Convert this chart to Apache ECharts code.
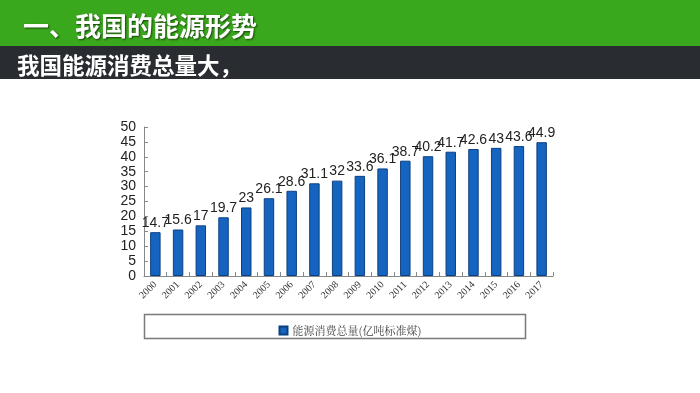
<!DOCTYPE html>
<html><head><meta charset="utf-8">
<script src="https://cdn.jsdelivr.net/npm/echarts@6/dist/echarts.min.js"></script>
<style>html,body{margin:0;padding:0;background:#fff}#c{width:700px;height:393px}</style>
</head><body><div id="c"></div>
<script>
const years = ['2000','2001','2002','2003','2004','2005','2006','2007','2008','2009','2010','2011','2012','2013','2014','2015','2016','2017'];
const consumption = [14.7,15.6,17,19.7,23,26.1,28.6,31.1,32,33.6,36.1,38.7,40.2,41.7,42.6,43,43.6,44.9];
const seriesName = '能源消费总量(亿吨标准煤)';
const titleText = '一、我国的能源形势';
const subtitleText = '我国能源消费总量大，';

const chart = echarts.init(document.getElementById('c'));
chart.setOption({
  animation: false,
  backgroundColor: '#fff',
  graphic: [
    {type:'rect', shape:{x:0,y:0,width:700,height:46}, style:{fill:'#3aa81c'}, z:0},
    {type:'rect', shape:{x:0,y:46,width:700,height:33}, style:{fill:'#292d31'}, z:0},
    {type:'text', left:23, top:13, style:{text:titleText, fill:'#fff', font:'bold 26px "Noto Sans CJK SC"', textShadowColor:'rgba(0,0,0,0.6)', textShadowBlur:2, textShadowOffsetX:1, textShadowOffsetY:1}, z:5},
    {type:'text', left:17, top:54, style:{text:subtitleText, fill:'#fff', font:'bold 22.5px "Noto Sans CJK SC"'}, z:5},
    {type:'rect', shape:{x:144.5,y:314.5,width:381,height:24}, style:{fill:'#fff', stroke:'#7a7a7a', lineWidth:1.5}, z:1}
  ],
  grid: {left:144, right:147, top:127, bottom:117, containLabel:false},
  legend: {
    data:[seriesName], left:'center', top:320, itemWidth:8, itemHeight:8, icon:'rect',
    textStyle:{fontFamily:'"Noto Serif CJK SC","Liberation Serif",serif', fontSize:11, color:'#444'},
    z:10
  },
  xAxis: {
    type:'category', data:years,
    axisLine:{lineStyle:{color:'#888', width:1}},
    axisTick:{show:true, inside:true, length:4, lineStyle:{color:'#888'}},
    axisLabel:{rotate:45, fontFamily:'"Liberation Serif",serif', fontSize:10, color:'#333', margin:7, interval:0}
  },
  yAxis: {
    type:'value', min:0, max:50, interval:5,
    axisLine:{show:true, lineStyle:{color:'#888'}},
    axisTick:{show:true, inside:true, length:4, lineStyle:{color:'#888'}},
    splitLine:{show:false},
    axisLabel:{fontFamily:'"Liberation Sans",Arial,sans-serif', fontSize:14, color:'#222', margin:8}
  },
  series: [{
    name:seriesName, type:'bar', data:consumption, barWidth:'46%',
    itemStyle:{color:'#1565c0', borderColor:'#0d3f80', borderWidth:1},
    label:{show:true, position:'top', distance:2, fontFamily:'"Liberation Sans",Arial,sans-serif', fontSize:14, color:'#222'}
  }]
});
</script></body></html>
